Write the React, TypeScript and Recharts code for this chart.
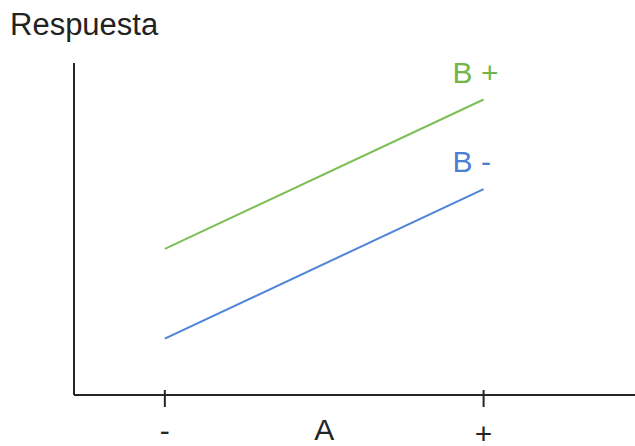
import React from "react";
import { LineChart, Line, XAxis, YAxis } from "recharts";

// factor A levels (coded), and the response for each level of B
const aLevels = [-1, 1];
const bHigh = [4.4, 8.9];
const bLow = [1.7, 6.2];
const seriesNames = ["B +", "B -"];

// tick labels along the A axis; the middle one is the axis name
const tickValues = [-1, 0, 1];
const tickLabels = ["-", "A", "+"];

const data = aLevels.map((a, i) => ({ a, high: bHigh[i], low: bLow[i] }));

const FONT = "'Liberation Sans', Arial, sans-serif";
const GREEN = "#7dbf55";
const BLUE = "#4f84d8";
const INK = "#262626";

const AxisTick = (props: any) => {
  const { x, y, payload, index } = props;
  const label = tickLabels[tickValues.indexOf(payload.value)];
  const isTitle = payload.value === 0;
  // "+" sits a bit lower than "-" in the original
  const base = isTitle ? 45 : index === 2 ? 49 : 46;
  return (
    <g>
      {!isTitle && <line x1={x} x2={x} y1={y - 5} y2={y + 12} stroke={INK} strokeWidth={2} />}
      <text x={x} y={y + base} textAnchor="middle" fontFamily={FONT} fontSize={30} fill={INK}>
        {label}
      </text>
    </g>
  );
};

const endLabel = (name: string, color: string) => (props: any) => {
  const { x, y, index } = props;
  if (index !== aLevels.length - 1) return <g />;
  return (
    <text x={x - 31} y={y - 17} fontFamily={FONT} fontSize={30} fill={color}>
      {name}
    </text>
  );
};

export default function App() {
  return (
    <div style={{ position: "absolute", left: 0, top: 0, width: 635, height: 446, background: "#fff" }}>
      <LineChart width={635} height={446} data={data} margin={{ top: 63, right: 0, left: 14, bottom: 0 }}>
        <XAxis
          dataKey="a"
          type="number"
          domain={[-1.57, 1.95]}
          ticks={tickValues}
          tick={<AxisTick />}
          tickLine={false}
          tickSize={0}
          tickMargin={0}
          height={51}
          axisLine={{ stroke: INK, strokeWidth: 2 }}
          interval={0}
          allowDataOverflow
        />
        <YAxis
          type="number"
          domain={[0, 10]}
          width={60}
          tick={false}
          tickLine={false}
          axisLine={{ stroke: INK, strokeWidth: 2 }}
          label={{
            content: () => (
              <text x={10} y={35} fontFamily={FONT} fontSize={31} fill="#222">
                Respuesta
              </text>
            ),
          }}
        />
        <Line
          dataKey="high"
          stroke={GREEN}
          strokeWidth={2}
          dot={false}
          isAnimationActive={false}
          label={endLabel(seriesNames[0], "#72b548")}
        />
        <Line
          dataKey="low"
          stroke={BLUE}
          strokeWidth={2}
          dot={false}
          isAnimationActive={false}
          label={endLabel(seriesNames[1], "#4a7fd4")}
        />
      </LineChart>
    </div>
  );
}
